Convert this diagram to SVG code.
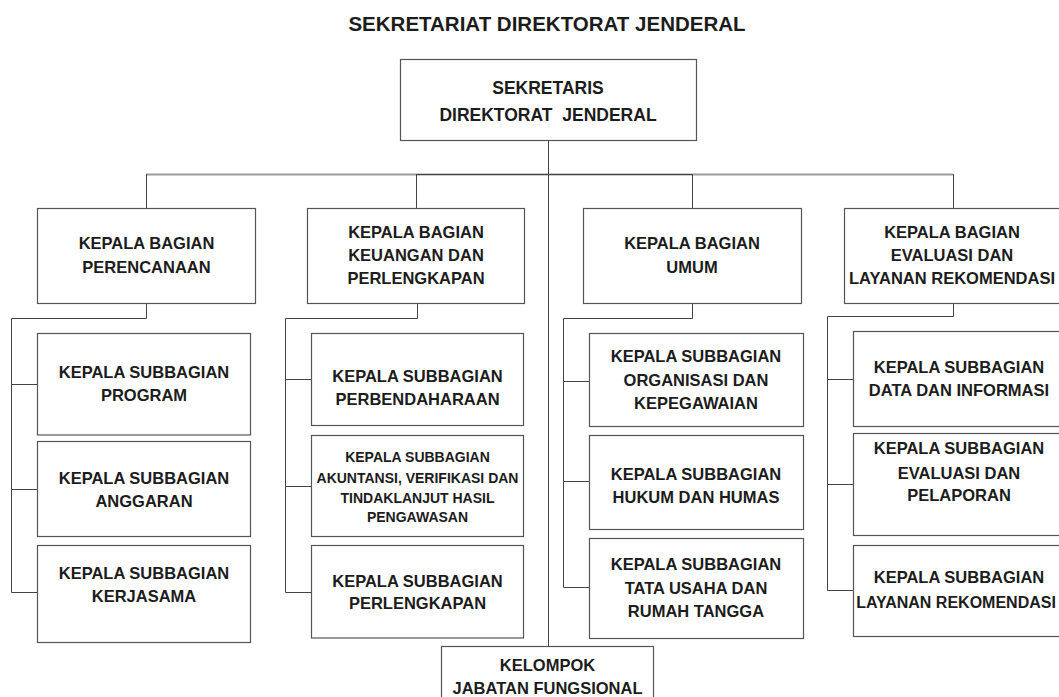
<svg xmlns="http://www.w3.org/2000/svg" width="1059" height="697" viewBox="0 0 1059 697">
<style>
  .box { fill: #ffffff; stroke: #555555; stroke-width: 1.2; }
  .ln { fill: none; stroke: #444444; stroke-width: 1; }
  .bar { fill: none; stroke: #9a9a9a; stroke-width: 2; }
  text { font-family: "Liberation Sans", Arial, sans-serif; font-weight: bold; fill: #1c1c1c; text-anchor: middle; }
  .t { font-size: 16.5px; }
  .s { font-size: 14px; }
  .h { font-size: 17.5px; }
  .title { font-size: 20.5px; }
</style>
<rect width="1059" height="697" fill="#ffffff"/>
<text class="title" x="547" y="30.5">SEKRETARIAT DIREKTORAT JENDERAL</text>

<g id="connectors">
  <path class="bar" d="M146 174.5 H953"/>
  <path class="ln" d="M416 174.5 H692"/>
  <path class="ln" d="M548.5 140.5 V646.5"/>
  <path class="ln" d="M146.5 174 V208.5 M416.5 174 V208.5 M692.5 174 V208.5 M953.5 174 V208.5"/>
  <path class="ln" d="M146.5 303.5 V318.5 H11.5 V592.5 H37.5 M11.5 384.5 H37.5 M11.5 489.5 H37.5"/>
  <path class="ln" d="M417.5 303.5 V318.5 H285.5 V592.5 H311.5 M285.5 379.5 H311.5 M285.5 486.5 H311.5"/>
  <path class="ln" d="M692.5 303.5 V318.5 H563.5 V587.5 H589.5 M563.5 381.5 H589.5 M563.5 481.5 H589.5"/>
  <path class="ln" d="M953.5 303.5 V316.5 H827.5 V590.5 H853.5 M827.5 379.5 H853.5 M827.5 484.5 H853.5"/>
</g>

<g id="sekretaris">
  <rect class="box" x="400.5" y="59.5" width="296" height="81"/>
  <text class="h" x="548" y="94">SEKRETARIS</text>
  <text class="h" x="548" y="121.3" xml:space="preserve">DIREKTORAT  JENDERAL</text>
</g>

<g id="bagian-perencanaan">
  <rect class="box" x="37.5" y="208.5" width="218" height="95"/>
  <text class="t" x="146.5" y="249.3">KEPALA BAGIAN</text>
  <text class="t" x="146.5" y="272.7">PERENCANAAN</text>
</g>
<g id="bagian-keuangan">
  <rect class="box" x="307.5" y="208.5" width="217" height="95"/>
  <text class="t" x="416" y="237.7">KEPALA BAGIAN</text>
  <text class="t" x="416" y="261">KEUANGAN DAN</text>
  <text class="t" x="416" y="284.3">PERLENGKAPAN</text>
</g>
<g id="bagian-umum">
  <rect class="box" x="583.5" y="208.5" width="218" height="95"/>
  <text class="t" x="692" y="249.3">KEPALA BAGIAN</text>
  <text class="t" x="692" y="272.7">UMUM</text>
</g>
<g id="bagian-evaluasi">
  <rect class="box" x="844.5" y="208.5" width="217" height="95"/>
  <text class="t" x="952" y="237.7">KEPALA BAGIAN</text>
  <text class="t" x="952" y="261.3">EVALUASI DAN</text>
  <text class="t" x="952" y="284.3">LAYANAN REKOMENDASI</text>
</g>

<g id="sub-program">
  <rect class="box" x="37.5" y="333.5" width="213" height="101.5"/>
  <text class="t" x="144" y="377.7">KEPALA SUBBAGIAN</text>
  <text class="t" x="144" y="401">PROGRAM</text>
</g>
<g id="sub-anggaran">
  <rect class="box" x="37.5" y="441.5" width="213" height="95"/>
  <text class="t" x="144" y="484.3">KEPALA SUBBAGIAN</text>
  <text class="t" x="144" y="507">ANGGARAN</text>
</g>
<g id="sub-kerjasama">
  <rect class="box" x="37.5" y="545.5" width="213" height="97"/>
  <text class="t" x="144" y="578.7">KEPALA SUBBAGIAN</text>
  <text class="t" x="144" y="602">KERJASAMA</text>
</g>

<g id="sub-perbendaharaan">
  <rect class="box" x="311.5" y="333.5" width="212" height="92"/>
  <text class="t" x="417.5" y="382">KEPALA SUBBAGIAN</text>
  <text class="t" x="417.5" y="405.3">PERBENDAHARAAN</text>
</g>
<g id="sub-akuntansi">
  <rect class="box" x="311.5" y="435.5" width="212" height="101"/>
  <text class="s" x="417.5" y="461.7">KEPALA SUBBAGIAN</text>
  <text class="s" x="417.5" y="483.3">AKUNTANSI, VERIFIKASI DAN</text>
  <text class="s" x="417.5" y="502.7">TINDAKLANJUT HASIL</text>
  <text class="s" x="417.5" y="521.7">PENGAWASAN</text>
</g>
<g id="sub-perlengkapan">
  <rect class="box" x="311.5" y="545.5" width="212" height="92.5"/>
  <text class="t" x="417.5" y="586.7">KEPALA SUBBAGIAN</text>
  <text class="t" x="417.5" y="609.3">PERLENGKAPAN</text>
</g>

<g id="sub-organisasi">
  <rect class="box" x="589.5" y="333.5" width="214" height="93"/>
  <text class="t" x="696" y="361.7">KEPALA SUBBAGIAN</text>
  <text class="t" x="696" y="386">ORGANISASI DAN</text>
  <text class="t" x="696" y="409.3">KEPEGAWAIAN</text>
</g>
<g id="sub-hukum">
  <rect class="box" x="589.5" y="435.5" width="214" height="94"/>
  <text class="t" x="696" y="480.3">KEPALA SUBBAGIAN</text>
  <text class="t" x="696" y="502.7">HUKUM DAN HUMAS</text>
</g>
<g id="sub-tatausaha">
  <rect class="box" x="589.5" y="538.5" width="214" height="100"/>
  <text class="t" x="696" y="570.3">KEPALA SUBBAGIAN</text>
  <text class="t" x="696" y="594.3">TATA USAHA DAN</text>
  <text class="t" x="696" y="617">RUMAH TANGGA</text>
</g>

<g id="sub-data">
  <rect class="box" x="853.5" y="331.5" width="212" height="95"/>
  <text class="t" x="959" y="372.7">KEPALA SUBBAGIAN</text>
  <text class="t" x="959" y="396">DATA DAN INFORMASI</text>
</g>
<g id="sub-pelaporan">
  <rect class="box" x="853.5" y="433.5" width="212" height="102"/>
  <text class="t" x="959" y="454.3">KEPALA SUBBAGIAN</text>
  <text class="t" x="959" y="478.7">EVALUASI DAN</text>
  <text class="t" x="959" y="501">PELAPORAN</text>
</g>
<g id="sub-layanan">
  <rect class="box" x="853.5" y="545.5" width="212" height="91"/>
  <text class="t" x="959" y="583.3">KEPALA SUBBAGIAN</text>
  <text x="956" y="607.7" style="font-size:16px">LAYANAN REKOMENDASI</text>
</g>

<g id="kelompok">
  <rect class="box" x="441.5" y="646.5" width="212" height="60"/>
  <text class="t" x="547.5" y="671">KELOMPOK</text>
  <text class="t" x="547.5" y="694.3">JABATAN FUNGSIONAL</text>
</g>
</svg>
